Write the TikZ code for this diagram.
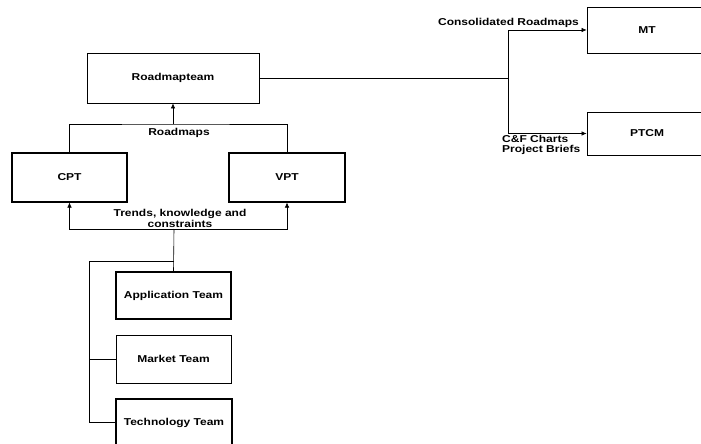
\documentclass[tikz,border=0pt]{standalone}
\usepackage{fontspec}
\setmainfont{Liberation Sans}[FakeStretch=1.2]
\usetikzlibrary{arrows.meta}
\begin{document}
\begin{tikzpicture}[x=1pt,y=-1pt,
  font=\bfseries\fontsize{10}{11}\selectfont,
  box/.style={draw, line width=0.8pt, inner sep=0pt},
  heavybox/.style={box, line width=1.1pt},
  link/.style={line width=0.6pt},
  arr/.style={link, -{Latex[length=5pt,width=4.5pt]}},
  lbl/.style={inner sep=0pt, align=center}]
\useasboundingbox (0,0) rectangle (701,444);

% boxes
\node[box, minimum width=172pt, minimum height=50pt] (RT) at (173,78) {Roadmapteam};
\node[heavybox, minimum width=115pt, minimum height=49pt] (CPT) at (69.5,177.5) {CPT};
\node[heavybox, minimum width=116pt, minimum height=49pt] (VPT) at (287,177.5) {VPT};
\node[box, minimum width=120pt, minimum height=46pt] (MT) at (647,30) {MT};
\node[box, minimum width=120pt, minimum height=43pt] (PTCM) at (647,133.5) {PTCM};
\node[heavybox, minimum width=115pt, minimum height=47pt] (AT) at (173.5,295.5) {Application Team};
\node[box, minimum width=115pt, minimum height=48pt] (MK) at (173.5,359) {Market Team};
\node[heavybox, minimum width=116pt, minimum height=47pt] (TT) at (174,422.5) {Technology Team};

% junction points
\coordinate (j) at (508,78);
\coordinate (r) at (173,124);
\coordinate (t) at (174,229);
\coordinate (b) at (174,261);
\coordinate (c) at (89,261);

% roadmap team to management
\draw[link] (RT.east) -- (j);
\draw[arr] (j) |- (MT.west);
\draw[arr] (j) |- (PTCM.west);

% planning teams to roadmap team
\draw[link] (CPT.north) |- (r) -| (VPT.north);
\draw[arr] (r) -- (RT.south);

% expert teams to planning teams
\draw[arr] (t) -| (CPT.south);
\draw[arr] (t) -| (VPT.south);
\draw[link] (t) -- (AT.north);
\draw[link] (b) -- (c) |- (TT.west);
\draw[link] (c |- MK.west) -- (MK.west);

% labels
\node[lbl] (lr) at (179,133) {Roadmaps};
\node[lbl] (lt) at (180,218.5) {Trends, knowledge and\\constraints};
\node[lbl, anchor=east] (lc) at (579,23) {Consolidated Roadmaps};
\node[lbl, anchor=west, align=left, font=\bfseries\fontsize{10}{9.5}\selectfont] (lp) at (502,145) {C\&F Charts\\Project Briefs};
\end{tikzpicture}
\end{document}
